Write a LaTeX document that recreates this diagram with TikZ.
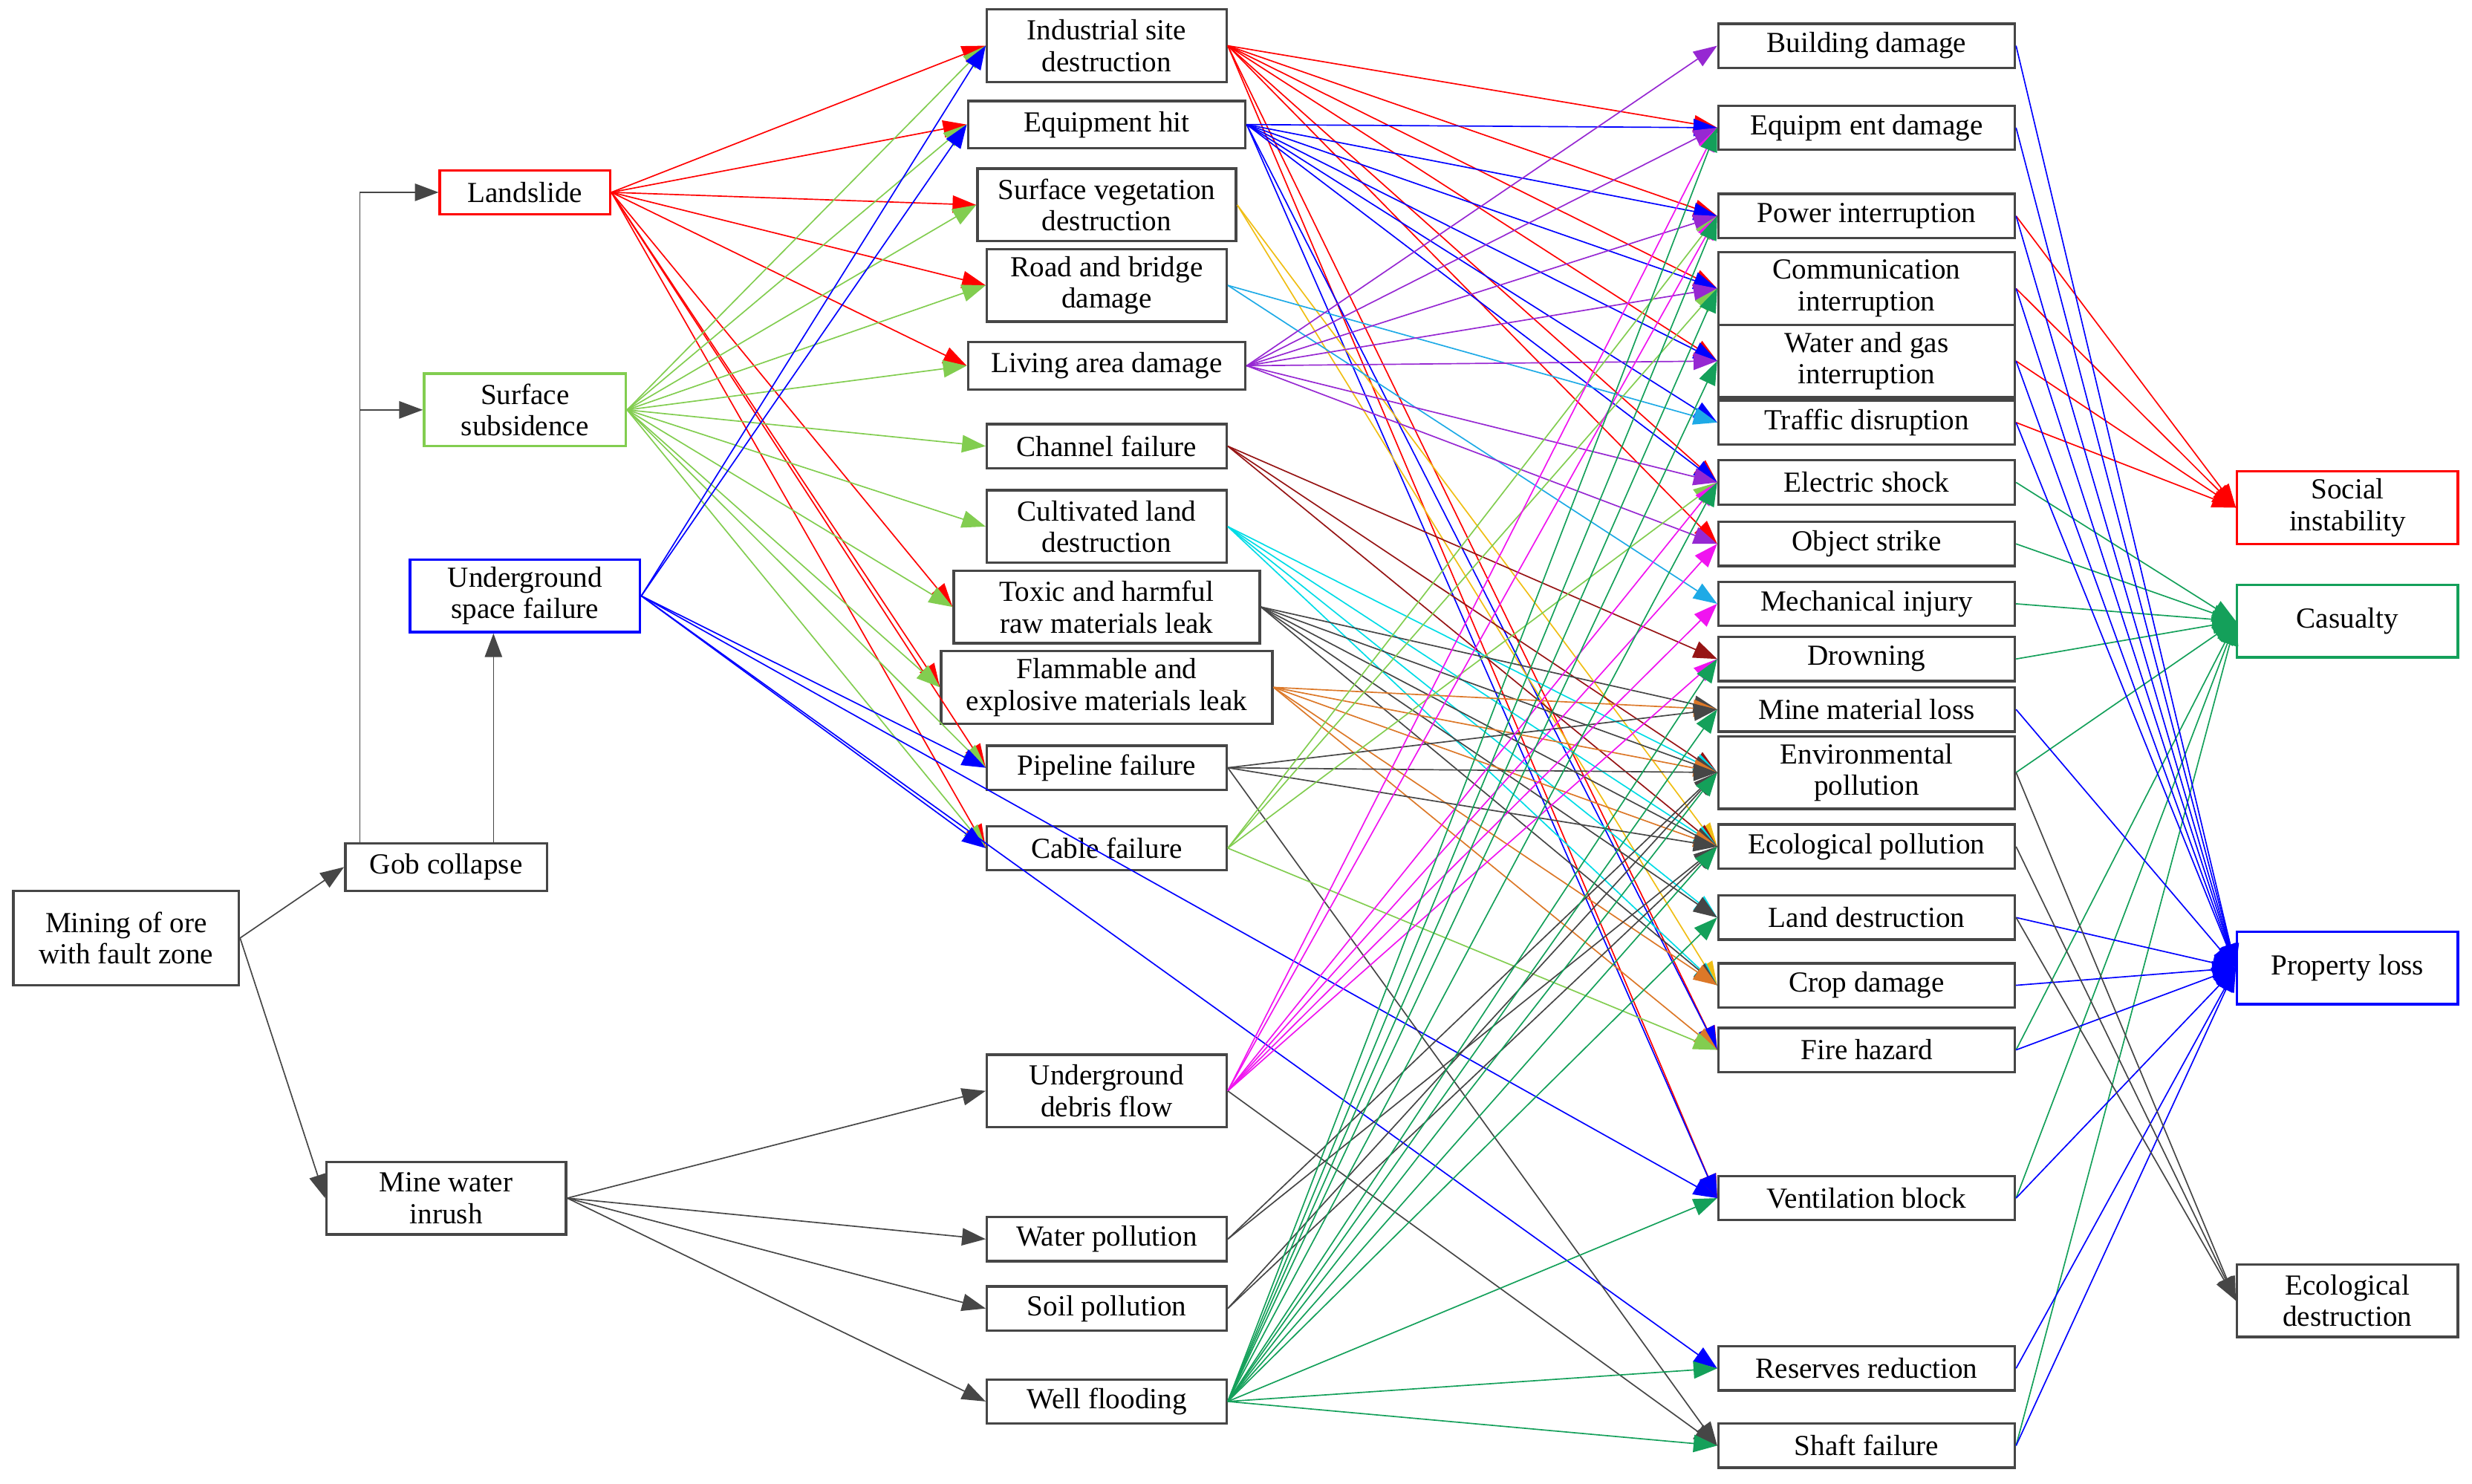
\documentclass[tikz,border=0pt]{standalone}
\usepackage{fontspec}
\setmainfont{Liberation Serif}
\usetikzlibrary{arrows.meta}
\definecolor{lg}{RGB}{130,205,80}
\definecolor{dg}{RGB}{70,70,70}
\definecolor{gr}{RGB}{20,160,90}
\definecolor{gold}{RGB}{240,190,20}
\definecolor{sky}{RGB}{30,170,230}
\definecolor{pur}{RGB}{150,40,210}
\definecolor{drd}{RGB}{150,20,20}
\definecolor{cy}{RGB}{0,220,230}
\definecolor{org}{RGB}{220,120,40}
\definecolor{mag}{RGB}{240,20,240}
\tikzset{
 bx/.style={draw=#1,line width=0.9pt,align=center,inner sep=0pt,font=\fontsize{10.5}{11.4}\selectfont},
 e/.style={line width=0.45pt,-{Triangle[length=0.3cm,width=0.22cm]}},
}
\newcommand\nd[7]{\node[bx=#6,minimum width=#4*0.02cm,minimum height=#5*0.02cm] (#1) at (#2,#3) {#7};}
\begin{document}
\begin{tikzpicture}[x=0.02cm,y=-0.02cm]
\useasboundingbox (0,0) rectangle (1568,941);
\nd{mine}{80}{595}{143}{60}{dg}{Mining of ore\\with fault zone}
\nd{gob}{283}{550}{128}{30}{dg}{Gob collapse}
\nd{mwi}{283}{760}{152}{46}{dg}{Mine water\\inrush}
\nd{land}{333}{122}{108}{28}{red}{Landslide}
\nd{sub}{333}{260}{128}{46}{lg}{Surface\\subsidence}
\nd{usf}{333}{378}{146}{46}{blue}{Underground\\space failure}
\nd{isd}{702}{29}{152}{46}{dg}{Industrial site\\destruction}
\nd{eqh}{702}{79}{176}{30}{dg}{Equipment hit}
\nd{svd}{702}{130}{164}{46}{dg}{Surface vegetation\\destruction}
\nd{rbd}{702}{181}{152}{46}{dg}{Road and bridge\\damage}
\nd{lad}{702}{232}{176}{30}{dg}{Living area damage}
\nd{chf}{702}{283}{152}{28}{dg}{Channel failure}
\nd{cld}{702}{334}{152}{46}{dg}{Cultivated land\\destruction}
\nd{tox}{702}{385}{194}{46}{dg}{Toxic and harmful\\raw materials leak}
\nd{fla}{702}{436}{210}{46}{dg}{Flammable and\\explosive materials leak}
\nd{pip}{702}{487}{152}{28}{dg}{Pipeline failure}
\nd{cab}{702}{538}{152}{28}{dg}{Cable failure}
\nd{udf}{702}{692}{152}{46}{dg}{Underground\\debris flow}
\nd{wap}{702}{786}{152}{28}{dg}{Water pollution}
\nd{sop}{702}{830}{152}{28}{dg}{Soil pollution}
\nd{wfl}{702}{889}{152}{28}{dg}{Well flooding}
\nd{bd}{1184}{29}{188}{28}{dg}{Building damage}
\nd{ed}{1184}{81}{188}{28}{dg}{Equipm ent damage}
\nd{pi}{1184}{137}{188}{28}{dg}{Power interruption}
\nd{ci}{1184}{183}{188}{46}{dg}{Communication\\interruption}
\nd{wgi}{1184}{229}{188}{46}{dg}{Water and gas\\interruption}
\nd{td}{1184}{268}{188}{28}{dg}{Traffic disruption}
\nd{es}{1184}{306}{188}{28}{dg}{Electric shock}
\nd{os}{1184}{345}{188}{28}{dg}{Object strike}
\nd{mi}{1184}{383}{188}{28}{dg}{Mechanical injury}
\nd{dr}{1184}{418}{188}{28}{dg}{Drowning}
\nd{mml}{1184}{450}{188}{28}{dg}{Mine material loss}
\nd{env}{1184}{490}{188}{46}{dg}{Environmental\\pollution}
\nd{eco}{1184}{537}{188}{28}{dg}{Ecological pollution}
\nd{ld}{1184}{582}{188}{28}{dg}{Land destruction}
\nd{cd}{1184}{625}{188}{28}{dg}{Crop damage}
\nd{fh}{1184}{666}{188}{28}{dg}{Fire hazard}
\nd{vb}{1184}{760}{188}{28}{dg}{Ventilation block}
\nd{rr}{1184}{868}{188}{28}{dg}{Reserves  reduction}
\nd{sf}{1184}{917}{188}{28}{dg}{Shaft failure}
\nd{soc}{1489}{322}{140}{46}{red}{Social\\instability}
\nd{cas}{1489}{394}{140}{46}{gr}{Casualty}
\nd{pl}{1489}{614}{140}{46}{blue}{Property loss}
\nd{ecd}{1489}{825}{140}{46}{dg}{Ecological\\destruction}
% left
\draw[e,dg] (mine.east) -- (gob.west);
\draw[e,dg] (mine.east) -- (mwi.west);
\draw[e,dg] ([xshift=0.2cm]gob.north west) |- (land.west);
\draw[e,dg] ([xshift=0.2cm]gob.north west) |- (sub.west);
\draw[e,dg] ([xshift=-0.4cm]usf.south |- gob.north) -- ([xshift=-0.4cm]usf.south);
\foreach \t in {isd,eqh,svd,rbd,lad,tox,fla,pip,cab} \draw[e,red] (land.east) -- (\t.west);
\foreach \t in {isd,eqh,svd,rbd,lad,chf,cld,tox,fla,pip,cab} \draw[e,lg] (sub.east) -- (\t.west);
\foreach \t in {isd,eqh,pip,cab,vb,rr} \draw[e,blue] (usf.east) -- (\t.west);
\foreach \t in {udf,wap,sop,wfl} \draw[e,dg] (mwi.east) -- (\t.west);
% middle
\foreach \t in {ed,pi,ci,wgi,es,os,vb,fh} \draw[e,red] (isd.east) -- (\t.west);
\foreach \t in {ed,pi,ci,wgi,td,es,vb,fh} \draw[e,blue] (eqh.east) -- (\t.west);
\foreach \t in {eco,cd} \draw[e,gold] (svd.east) -- (\t.west);
\foreach \t in {td,mi} \draw[e,sky] (rbd.east) -- (\t.west);
\foreach \t in {bd,ed,pi,ci,wgi,es,os} \draw[e,pur] (lad.east) -- (\t.west);
\foreach \t in {dr,env,eco} \draw[e,drd] (chf.east) -- (\t.west);
\foreach \t in {ld,cd,env,eco} \draw[e,cy] (cld.east) -- (\t.west);
\foreach \t in {mml,env,eco,ld,cd} \draw[e,dg] (tox.east) -- (\t.west);
\foreach \t in {mml,env,eco,fh,cd} \draw[e,org] (fla.east) -- (\t.west);
\foreach \t in {mml,env,eco,sf} \draw[e,dg] (pip.east) -- (\t.west);
\foreach \t in {pi,ci,es,fh} \draw[e,lg] (cab.east) -- (\t.west);
\foreach \t in {ed,pi,es,os,mi,dr} \draw[e,mag] (udf.east) -- (\t.west);
\draw[e,dg] (udf.east) -- (sf.west);
\foreach \t in {env,eco} \draw[e,dg] (wap.east) -- (\t.west);
\foreach \t in {env,eco} \draw[e,dg] (sop.east) -- (\t.west);
\foreach \t in {ed,pi,ci,wgi,es,dr,mml,env,eco,ld,vb,rr,sf} \draw[e,gr] (wfl.east) -- (\t.west);
% right
\foreach \s in {pi,ci,wgi,td} \draw[e,red] (\s.east) -- (soc.west);
\foreach \s in {es,os,mi,dr,env,fh,vb,sf} \draw[e,gr] (\s.east) -- (cas.west);
\foreach \s in {bd,ed,pi,ci,wgi,td,mml,ld,cd,fh,vb,rr,sf} \draw[e,blue] (\s.east) -- (pl.west);
\foreach \s in {env,eco,ld} \draw[e,dg] (\s.east) -- (ecd.west);
\end{tikzpicture}
\end{document}
